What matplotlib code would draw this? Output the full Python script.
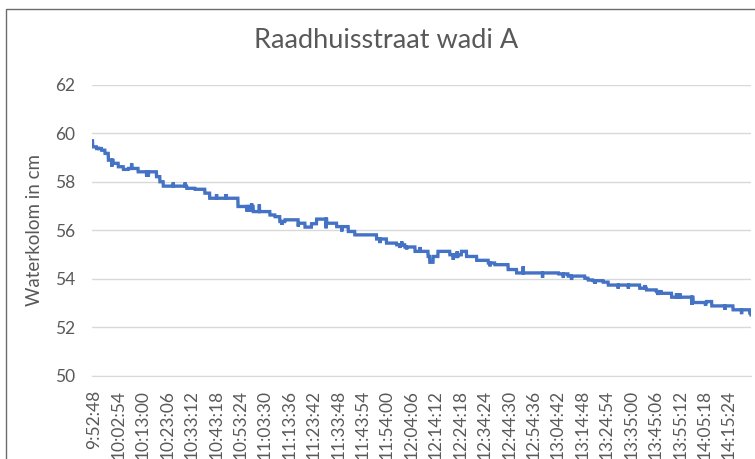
import matplotlib
matplotlib.use('Agg')
import matplotlib.pyplot as plt
import matplotlib.transforms as mtransforms
from matplotlib.patches import Rectangle
import numpy as np

plt.rcParams['font.family'] = ['Lato', 'DejaVu Sans']

#Sensor logged every 6 seconds, one label every 101 samples
n_samples = 2726
label_step = 101
tick_labels = ['9:52:48', '10:02:54', '10:13:00', '10:23:06', '10:33:12', '10:43:18',
               '10:53:24', '11:03:30', '11:13:36', '11:23:42', '11:33:48', '11:43:54',
               '11:54:00', '12:04:06', '12:14:12', '12:24:18', '12:34:24', '12:44:30',
               '12:54:36', '13:04:42', '13:14:48', '13:24:54', '13:35:00', '13:45:06',
               '13:55:12', '14:05:18', '14:15:24']

#Plateaus of the water column: sample index where a level starts, and the level (cm)
step_start = [0, 3, 19, 40, 54, 68, 88, 109, 130, 151, 191, 267, 281, 295, 392, 426,
              467, 487, 604, 667, 736, 757, 777, 798, 853, 881, 908, 929, 971, 1012,
              1060, 1087, 1177, 1218, 1260, 1294, 1336, 1390, 1397, 1411, 1431, 1480,
              1501, 1514, 1528, 1549, 1591, 1639, 1666, 1721, 1756, 1930, 1969, 2038,
              2052, 2072, 2114, 2135, 2265, 2293, 2334, 2355, 2397, 2486, 2542, 2563,
              2651, 2720]
step_level = [59.70, 59.45, 59.38, 59.31, 59.18, 58.90, 58.77, 58.63, 58.52, 58.56,
              58.42, 58.22, 58.01, 57.83, 57.74, 57.70, 57.54, 57.33, 56.99, 56.78,
              56.64, 56.57, 56.37, 56.44, 56.30, 56.14, 56.28, 56.47, 56.30, 56.16,
              55.96, 55.82, 55.65, 55.48, 55.41, 55.32, 55.14, 54.93, 54.69, 54.93,
              55.14, 55.00, 54.93, 55.00, 55.14, 54.93, 54.77, 54.66, 54.59, 54.39,
              54.25, 54.21, 54.12, 54.03, 53.96, 53.93, 53.87, 53.75, 53.62, 53.55,
              53.48, 53.41, 53.25, 53.03, 53.07, 52.89, 52.73, 52.60]

#Single readings that jump off the plateau
spike_index = [26, 82, 164, 226, 233, 336, 385, 515, 554, 641, 653, 660, 692, 785, 853,
               968, 1033, 1191, 1274, 1281, 1301, 1357, 1494, 1510, 1646, 1783, 1863,
               1949, 1983, 2080, 2176, 2218, 2287, 2341, 2417, 2431, 2480, 2537, 2617,
               2686, 2725]
spike_level = [59.45, 58.63, 58.77, 58.22, 58.22, 57.98, 57.98, 57.50, 57.50, 56.78,
               56.78, 57.12, 57.08, 56.23, 56.16, 56.09, 55.96, 55.48, 55.28, 55.55,
               55.22, 55.32, 54.79, 55.14, 54.52, 54.52, 54.05, 54.05, 53.96, 53.80,
               53.60, 53.60, 53.75, 53.34, 53.41, 53.41, 52.93, 52.89, 52.73, 52.55,
               52.52]

#Build the series from the plateaus and spikes
water = np.zeros(n_samples)
bounds = step_start + [n_samples]
for k in range(len(step_level)):
    water[bounds[k]:bounds[k + 1]] = step_level[k]
for i, v in zip(spike_index, spike_level):
    water[i] = v

fig = plt.figure(figsize=(7.55, 4.59), dpi=100)
ax = fig.add_axes([92 / 755, 1 - 376 / 459, (751 - 92) / 755, (376 - 85) / 459])

ax.plot(np.arange(n_samples), water, color='#4472C4', lw=2.4, solid_joinstyle='miter')

ax.set_xlim(0, n_samples - 1)
ax.set_ylim(50, 62)
ax.set_yticks(np.arange(50, 63, 2))
ax.set_xticks(np.arange(0, n_samples, label_step))
ax.set_xticklabels(tick_labels, rotation=90, ha='center', va='top')

#Excel look: light gridlines, no frame, grey text
ax.grid(axis='y', color='#d9d9d9', lw=1)
ax.set_axisbelow(True)
for s in ['top', 'right', 'left']:
    ax.spines[s].set_visible(False)
ax.spines['bottom'].set_color('#d9d9d9')
ax.tick_params(axis='both', length=0, labelsize=12.5, colors='#595959')
ax.tick_params(axis='y', pad=12)
ax.tick_params(axis='x', pad=10)
offset = mtransforms.ScaledTranslation(2 / 100, 0, fig.dpi_scale_trans)
for lab in ax.get_xticklabels():
    lab.set_transform(lab.get_transform() + offset)

ax.set_ylabel('Waterkolom in cm', fontsize=13.5, color='#595959')
ax.yaxis.set_label_coords(43 / 755, 1 - 230 / 459, transform=fig.transFigure)

fig.text(386 / 755, 1 - 40 / 459, 'Raadhuisstraat wadi A', ha='center', va='center',
         fontsize=19.5, color='#595959')

#Outer chart frame, cut off at the right and bottom
fig.patches.append(Rectangle((6 / 755, -0.2), 2, 1.2 - 8.5 / 459, transform=fig.transFigure,
                             fill=False, edgecolor='#6b6b6b', lw=1))

fig.savefig('out.png', dpi=100)
